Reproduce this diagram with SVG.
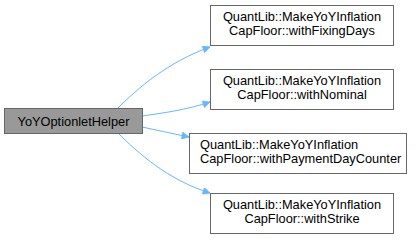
<svg xmlns="http://www.w3.org/2000/svg" width="420" height="243" viewBox="0 0 420 243">
  <style>
    .node rect { fill: #ffffff; stroke: #666666; stroke-width: 1; }
    .node.root rect { fill: #999999; }
    text { font-family: "Liberation Sans", Arial, sans-serif; font-size: 12.8px; fill: #000000; text-anchor: middle; }
    .edge { fill: none; stroke: #63b8ff; stroke-width: 1; }
  </style>
  <defs>
    <marker id="arrow" viewBox="0 0 10 10" refX="10" refY="5" markerWidth="10" markerHeight="7" markerUnits="userSpaceOnUse" orient="auto">
      <path d="M0,0 L10,5 L0,10 z" fill="#63b8ff" stroke="#63b8ff"/>
    </marker>
  </defs>

  <g id="edges">
    <path class="edge" marker-end="url(#arrow)" d="M118,108 C138,88 168,62 210,47"/>
    <path class="edge" marker-end="url(#arrow)" d="M142,116 C163,113 186,110 210,102"/>
    <path class="edge" marker-end="url(#arrow)" d="M142,127 C156,130 170,133 189,137"/>
    <path class="edge" marker-end="url(#arrow)" d="M118,133 C138,153 168,180 210,193"/>
  </g>

  <g id="node-root" class="node root">
    <rect x="4.5" y="108.5" width="138" height="25"/>
    <text x="73.5" y="125.5">YoYOptionletHelper</text>
  </g>

  <g id="node-withFixingDays" class="node">
    <rect x="210.5" y="5.5" width="183" height="40"/>
    <text x="302" y="21">QuantLib::MakeYoYInflation</text>
    <text x="302" y="34.5">CapFloor::withFixingDays</text>
  </g>

  <g id="node-withNominal" class="node">
    <rect x="210.5" y="69.5" width="183" height="40"/>
    <text x="302" y="85">QuantLib::MakeYoYInflation</text>
    <text x="302" y="98.5">CapFloor::withNominal</text>
  </g>

  <g id="node-withPaymentDayCounter" class="node">
    <rect x="189.5" y="133.5" width="217" height="40"/>
    <text x="200" y="149" style="text-anchor:start">QuantLib::MakeYoYInflation</text>
    <text x="200" y="162.5" style="text-anchor:start">CapFloor::withPaymentDayCounter</text>
  </g>

  <g id="node-withStrike" class="node">
    <rect x="210.5" y="193.5" width="183" height="40"/>
    <text x="302" y="209">QuantLib::MakeYoYInflation</text>
    <text x="302" y="222.5">CapFloor::withStrike</text>
  </g>
</svg>
